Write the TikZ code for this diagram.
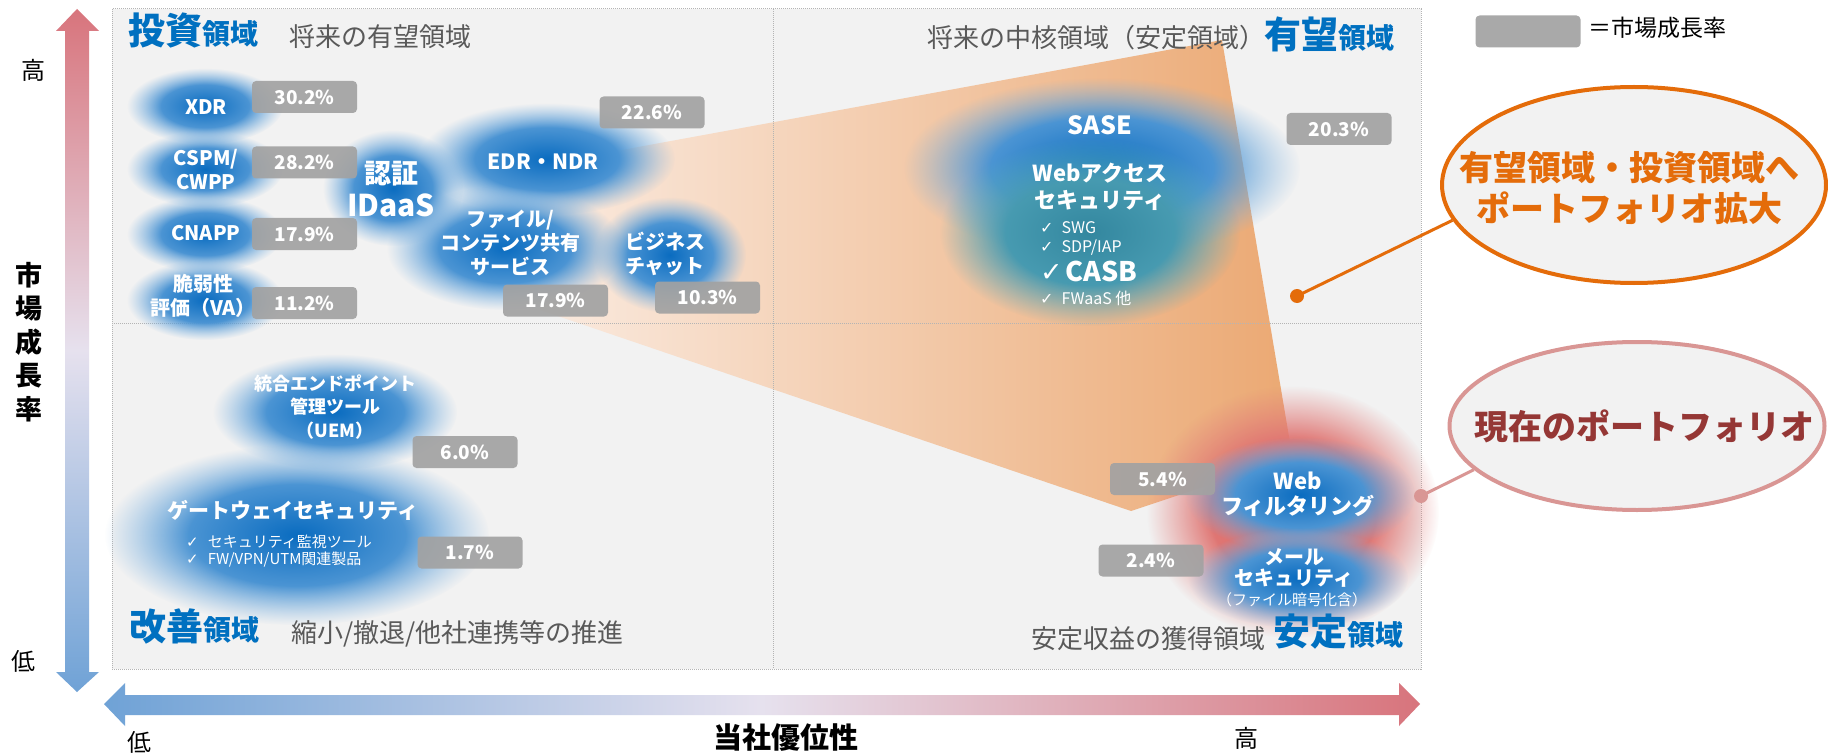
\documentclass[tikz,border=0pt]{standalone}
\usepackage{fontspec}
\setmainfont{Noto Sans CJK JP}
\newfontfamily\chkfont{DejaVu Sans}
\usepackage{xcolor}
\usetikzlibrary{shapes.geometric, fadings, positioning}

\definecolor{framebg}{HTML}{F2F2F2}
\definecolor{frameln}{HTML}{B4B4B4}
\definecolor{areablue}{HTML}{0070C0}
\definecolor{subgrey}{HTML}{595959}
\definecolor{blobdark}{HTML}{0A6CC0}
\definecolor{bloblight}{HTML}{7DB3E2}
\definecolor{tealdark}{HTML}{33879F}
\definecolor{teallight}{HTML}{56A9BE}
\definecolor{nowblobc}{HTML}{DC6764}
\definecolor{nowblobe}{HTML}{E2807E}
\definecolor{pctgrey}{HTML}{A2A2A2}
\definecolor{wedgelight}{HTML}{FAEADF}
\definecolor{wedgedark}{HTML}{EBA872}
\definecolor{growline}{HTML}{E46C0A}
\definecolor{nowline}{HTML}{D99694}
\definecolor{nowtext}{HTML}{953735}
\definecolor{axred}{HTML}{D8747C}
\definecolor{axmid}{HTML}{E6E1EE}
\definecolor{axblue}{HTML}{6FA2D6}

% soft edge for the bubbles
\pgfdeclareradialshading{blobfadeshade}{\pgfpointorigin}{color(0bp)=(pgftransparent!0); color(14bp)=(pgftransparent!0); color(25bp)=(pgftransparent!100); color(50bp)=(pgftransparent!100)}
\pgfdeclarefading{blobfade}{\pgfuseshading{blobfadeshade}}

\newcommand\fsz[2]{\fontsize{#1}{#2}\selectfont}
\newcommand\chkmark{{\chkfont ✓}}
\newcommand\areaname[2]{{\fsz{37}{42}#1}{\fsz{28}{32}#2}}

\begin{document}
\begin{tikzpicture}[
        x=1pt, y=-1pt,
        % --- bubbles ---
        blob/.style={inner color=blobdark, outer color=bloblight, path fading=blobfade},
        tealblob/.style={inner color=tealdark, outer color=teallight, path fading=blobfade},
        nowblob/.style={inner color=nowblobc, outer color=nowblobe, path fading=blobfade},
        blobtxt/.style={text=white, font=\bfseries\fsz{20}{24}, align=center, inner sep=0pt},
        chk/.style={text=white, font=\fsz{16}{19}, anchor=west, inner sep=0pt},
        % --- growth rate boxes ---
        pct/.style={fill=pctgrey, fill opacity=0.92, text opacity=1, rounded corners=4pt,
            minimum width=105pt, minimum height=32pt, inner sep=0pt,
            text=white, font=\bfseries\fsz{19}{22}},
        % --- area titles ---
        areatitle/.style={text=areablue, font=\bfseries, anchor=west, inner sep=0pt},
        areasub/.style={text=subgrey, font=\fsz{26}{30}, inner sep=0pt},
        axlabel/.style={font=\fsz{24}{28}, inner sep=0pt},
        callout/.style={ellipse, line width=4pt, fill=framebg, inner sep=0pt}
    ]

    \useasboundingbox (0,0) rectangle (1828,754);
    \fill[white] (0,0) rectangle (1828,754);

    % ==================== 1. FRAME AND WEDGE ====================
    \fill[framebg] (112,9) rectangle (1421,669);
    \shade[left color=wedgelight, right color=wedgedark]
        (540,165) -- (1222,40) -- (1297,484) -- (1230,478) -- (1131,511) -- (540,310) -- cycle;
    \draw[frameln, densely dotted, line width=1pt] (112,9) rectangle (1421,669);
    \draw[frameln, densely dotted, line width=1pt] (773,9) -- (773,669);
    \draw[frameln, densely dotted, line width=1pt] (112,323) -- (1421,323);

    % ==================== 2. BUBBLES ====================
    % Investment area
    \shade[blob] (205,106) ellipse [x radius=78, y radius=38];
    \shade[blob] (205,169) ellipse [x radius=78, y radius=38];
    \shade[blob] (205,234) ellipse [x radius=78, y radius=38];
    \shade[blob] (205,300) ellipse [x radius=78, y radius=40];
    \shade[blob] (547,159) ellipse [x radius=128, y radius=56];
    \shade[blob] (505,248) ellipse [x radius=118, y radius=62];
    \shade[blob] (393,188) ellipse [x radius=70, y radius=58];
    \shade[blob] (670,255) ellipse [x radius=76, y radius=58];

    % Promising area
    \shade[blob] (1102,168) ellipse [x radius=198, y radius=90];
    \shade[tealblob] (1090,232) ellipse [x radius=150, y radius=94];

    % Improvement area
    \shade[blob] (335,412) ellipse [x radius=122, y radius=58];
    \shade[blob] (297,535) ellipse [x radius=192, y radius=90];

    % Stable area (current portfolio)
    \shade[nowblob] (1293,512) ellipse [x radius=146, y radius=126];
    \shade[blob] (1300,495) ellipse [x radius=115, y radius=58];
    \shade[blob] (1298,578) ellipse [x radius=110, y radius=50];

    % ==================== 3. GROWTH RATES ====================
    \node[pct] (pxdr)    at (304.5,97)    {30.2\%};
    \node[pct] (pcspm)   at (304.5,162.5) {28.2\%};
    \node[pct] (pcnapp)  at (304.5,234)   {17.9\%};
    \node[pct] (pva)     at (304.5,303)   {11.2\%};
    \node[pct] (pedr)    at (652,112.5)   {22.6\%};
    \node[pct] (pfile)   at (555.5,300.5) {17.9\%};
    \node[pct] (pchat)   at (707.5,297.5) {10.3\%};
    \node[pct] (psase)   at (1339,129)    {20.3\%};
    \node[pct] (puem)    at (465,452)     {6.0\%};
    \node[pct] (pgate)   at (470,552.5)   {1.7\%};
    \node[pct] (pweb)    at (1162.5,479)  {5.4\%};
    \node[pct] (pmail)   at (1151,560.5)  {2.4\%};

    % Legend
    \node[pct] (legbox) at (1528,31.5) {};
    \node[anchor=west, inner sep=0pt, font=\fsz{23}{26}] (legtxt) at (1588,28) {＝市場成長率};

    % ==================== 4. BUBBLE TEXTS ====================
    \node[blobtxt] (xdr)   at (206,107) {XDR};
    \node[blobtxt] (cspm)  at (206,170) {CSPM/\\CWPP};
    \node[blobtxt] (cnapp) at (206,233) {CNAPP};
    \node[blobtxt] (va)    at (203,296) {脆弱性\\評価（VA）};
    \node[blobtxt, font=\bfseries\fsz{27}{33}] (idaas) at (391,189) {認証\\{\fsz{30}{33}IDaaS}};
    \node[blobtxt, font=\bfseries\fsz{21}{24}] (edr) at (543,162) {EDR・NDR};
    \node[blobtxt] (file)  at (510,243) {ファイル/\\コンテンツ共有\\サービス};
    \node[blobtxt] (chat)  at (665,254) {ビジネス\\チャット};

    \node[blobtxt, font=\bfseries\fsz{25}{30}] (sase) at (1100,125) {SASE};
    \node[blobtxt, font=\bfseries\fsz{22}{27}] (swa)  at (1100,187) {Webアクセス\\セキュリティ};
    \node[chk] (swg)  at (1040,228) {\chkmark\hspace{8pt}SWG};
    \node[chk] (sdp)  at (1040,248) {\chkmark\hspace{8pt}SDP/IAP};
    \node[chk, font=\bfseries\fsz{27}{30}] (casb) at (1040,271) {\chkmark\hspace{3pt}CASB};
    \node[chk] (fwaas) at (1040,298) {\chkmark\hspace{8pt}FWaaS 他};

    \node[blobtxt, font=\bfseries\fsz{18}{23.5}] (uem) at (335,407) {統合エンドポイント\\管理ツール\\（UEM）};
    \node[blobtxt, font=\bfseries\fsz{21}{25}] (gate) at (293,510) {ゲートウェイセキュリティ};
    \node[chk, font=\fsz{15}{18}] (siem) at (186,542) {\chkmark\hspace{9pt}セキュリティ監視ツール};
    \node[chk, font=\fsz{15}{18}] (utm)  at (186,560) {\chkmark\hspace{9pt}FW/VPN/UTM関連製品};

    \node[blobtxt, font=\bfseries\fsz{22}{25}] (webf) at (1298,494) {Web\\フィルタリング};
    \node[blobtxt, font=\bfseries\fsz{20}{21}] (mail) at (1294,568) {メール\\セキュリティ};
    \node[blobtxt, font=\fsz{15}{18}] (mailenc) at (1292,600) {（ファイル暗号化含）};

    % ==================== 5. AREA TITLES ====================
    \node[areatitle] (invest) at (128,31) {\areaname{投資}{領域}};
    \node[areasub, anchor=west] (investsub) at (289,37) {将来の有望領域};
    \node[areasub, anchor=east] (promsub) at (1266,38) {将来の中核領域（安定領域）};
    \node[areatitle] (prom) at (1264,34) {\areaname{有望}{領域}};
    \node[areatitle] (improve) at (129,626) {\areaname{改善}{領域}};
    \node[areasub, anchor=west] (improvesub) at (291,634) {縮小/撤退/他社連携等の推進};
    \node[areasub, anchor=east] (stablesub) at (1266,639) {安定収益の獲得領域};
    \node[areatitle] (stable) at (1273,632) {\areaname{安定}{領域}};

    % ==================== 6. AXES ====================
    \shade[top color=axred, bottom color=axblue, middle color=axmid]
        (65,31) -- (56,31) -- (77,9) -- (99,31) -- (89,31) -- (89,672)
        -- (99,672) -- (77,692) -- (56,672) -- (65,672) -- cycle;
    \shade[left color=axblue, right color=axred, middle color=axmid]
        (125,695) -- (125,683) -- (104,704) -- (125,726) -- (125,715) -- (1399,715)
        -- (1399,726) -- (1420,704) -- (1399,683) -- (1399,695) -- cycle;

    \node[axlabel] (yhigh) at (33,70)   {高};
    \node[axlabel] (ylow)  at (23,661)  {低};
    \node[align=center, inner sep=0pt, font=\bfseries\fsz{27}{33.5}] (yname) at (29,342)
        {市\\場\\成\\長\\率};
    \node[axlabel] (xlow)  at (139,742) {低};
    \node[axlabel] (xhigh) at (1246,738) {高};
    \node[inner sep=0pt, font=\bfseries\fsz{29}{32}] (xname) at (786,738) {当社優位性};

    % ==================== 7. CALLOUTS ====================
    \node[callout, draw=growline, minimum width=384pt, minimum height=196pt] (growcall) at (1634,185) {};
    \node[align=center, inner sep=0pt, text=growline, font=\bfseries\fsz{34}{41}] (growtxt) at (1629,188)
        {有望領域・投資領域へ\\ポートフォリオ拡大};
    \node[circle, fill=growline, inner sep=0pt, minimum size=14pt] (growdot) at (1297,296) {};
    \draw[growline, line width=3pt] (growdot.center) -- (growcall.191);

    \node[callout, draw=nowline, minimum width=375pt, minimum height=168pt] (nowcall) at (1637,426) {};
    \node[inner sep=0pt, text=nowtext, font=\bfseries\fsz{34}{40}] (nowtxt) at (1644,426) {現在のポートフォリオ};
    \node[circle, fill=nowline, inner sep=0pt, minimum size=14pt] (nowdot) at (1421,496) {};
    \draw[nowline, line width=3pt] (nowdot.center) -- (nowcall.195);

\end{tikzpicture}
\end{document}
